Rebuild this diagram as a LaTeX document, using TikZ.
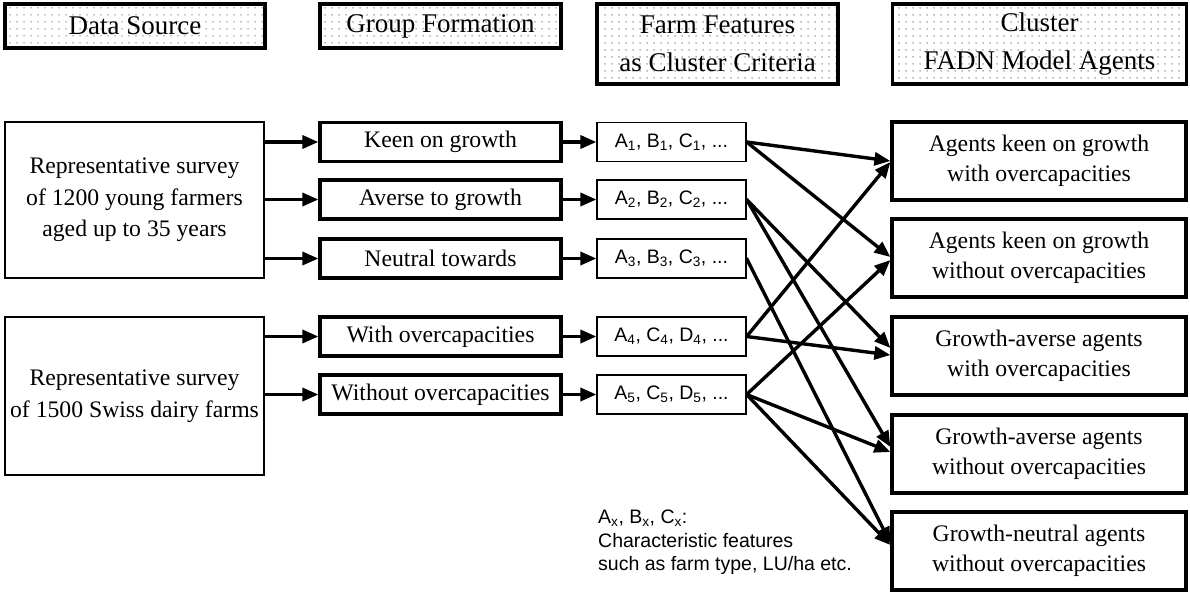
\documentclass[tikz,border=0pt]{standalone}
\usepackage{fontspec}
\setmainfont{Liberation Serif}
\newfontfamily\sansf{Liberation Sans}
\usetikzlibrary{arrows.meta,patterns.meta}
\tikzdeclarepattern{
  name=hdots,
  type=uncolored,
  bounding box={(0pt,0pt) and (7pt,7pt)},
  tile size={(7pt,7pt)},
  code={\fill (3.5pt,3.5pt) circle (0.9pt);}
}
\begin{document}
\begin{tikzpicture}[x=1pt,y=-1pt,
  hdr/.style={draw, line width=3.2pt, pattern=hdots, pattern color=black!50,
    font=\fontsize{27}{38}\selectfont, align=center, inner sep=0pt},
  grp/.style={draw, line width=3.2pt, fill=white, inner sep=0pt,
    font=\fontsize{23.7}{30}\selectfont, minimum width=241pt, minimum height=39pt},
  feat/.style={draw, line width=1.2pt, fill=white, inner sep=0pt,
    font=\sansf\fontsize{19.5}{23}\selectfont, minimum width=149pt, minimum height=39pt},
  src/.style={draw, line width=1.2pt, fill=white, inner sep=0pt, align=center,
    font=\fontsize{23.7}{31.5}\selectfont, minimum width=259pt},
  agt/.style={draw, line width=3.2pt, fill=white, inner sep=0pt, align=center,
    font=\fontsize{23.7}{30.5}\selectfont, minimum width=294pt, minimum height=78pt},
  arr/.style={line width=3.4pt, line cap=round, -{Triangle[length=16pt,width=13pt]}}
]
\useasboundingbox (0,0) rectangle (1190,592);

% headers
\node[hdr, minimum width=260pt, minimum height=44pt] (H1) at (135,26) {Data Source};
\node[hdr, minimum width=241pt, minimum height=44pt] (H2) at (440.5,26) {Group Formation};
\node[hdr, minimum width=241pt, minimum height=80pt] (H3) at (717.5,44) {Farm Features\\as Cluster Criteria};
\node[hdr, minimum width=294pt, minimum height=80pt] (H4) at (1039.5,44) {Cluster\\FADN Model Agents};

% data sources
\node[src, minimum height=156pt] (S1) at (134.5,200) {Representative survey\\of 1200 young farmers\\aged up to 35 years};
\node[src, minimum height=158pt] (S2) at (134.5,396) {Representative survey\\of 1500 Swiss dairy farms};

% groups
\node[grp] (G1) at (440.5,142) {Keen on growth};
\node[grp] (G2) at (440.5,199.5) {Averse to growth};
\node[grp] (G3) at (440.5,258.5) {Neutral towards};
\node[grp] (G4) at (440.5,336.5) {With overcapacities};
\node[grp] (G5) at (440.5,394.5) {Without overcapacities};

% features
\node[feat] (F1) at (671.5,142) {A\textsubscript{1}, B\textsubscript{1}, C\textsubscript{1}, ...};
\node[feat] (F2) at (671.5,199.5) {A\textsubscript{2}, B\textsubscript{2}, C\textsubscript{2}, ...};
\node[feat] (F3) at (671.5,258.5) {A\textsubscript{3}, B\textsubscript{3}, C\textsubscript{3}, ...};
\node[feat] (F4) at (671.5,336.5) {A\textsubscript{4}, C\textsubscript{4}, D\textsubscript{4}, ...};
\node[feat] (F5) at (671.5,394.5) {A\textsubscript{5}, C\textsubscript{5}, D\textsubscript{5}, ...};

% agents
\node[agt] (R1) at (1039,161) {Agents keen on growth\\with overcapacities};
\node[agt] (R2) at (1039,258) {Agents keen on growth\\without overcapacities};
\node[agt] (R3) at (1039,356) {Growth-averse agents\\with overcapacities};
\node[agt] (R4) at (1039,454) {Growth-averse agents\\without overcapacities};
\node[agt] (R5) at (1039,551) {Growth-neutral agents\\without overcapacities};

% note
\node[anchor=north west, align=left, inner sep=0pt, font=\sansf\fontsize{19.5}{23.5}\selectfont] (N) at (598,510)
  {A\textsubscript{x}, B\textsubscript{x}, C\textsubscript{x}:\\Characteristic features\\such as farm type, LU/ha etc.};

% source -> group
\draw[arr] (S1.east |- G1.west) -- (G1.west);
\draw[arr] (S1.east |- G2.west) -- (G2.west);
\draw[arr] (S1.east |- G3.west) -- (G3.west);
\draw[arr] (S2.east |- G4.west) -- (G4.west);
\draw[arr] (S2.east |- G5.west) -- (G5.west);

% group -> feature
\foreach \i in {1,...,5} {\draw[arr] (G\i.east) -- (F\i.west);}

% feature -> agents
\draw[arr] (F1.east) -- (R1.west);
\draw[arr] (F1.east) -- ([yshift=1pt]R2.west);
\draw[arr] (F2.east) -- ([yshift=8pt]R3.west);
\draw[arr] (F2.east) -- ([yshift=7pt]R4.west);
\draw[arr] (F3.east) -- ([yshift=8pt]R5.west);
\draw[arr] (F4.east) -- ([yshift=-1pt]R1.west);
\draw[arr] (F4.east) -- ([yshift=1pt]R3.west);
\draw[arr] (F5.east) -- ([yshift=-2pt]R2.west);
\draw[arr] (F5.east) -- ([yshift=2pt]R4.west);
\draw[arr] (F5.east) -- ([yshift=6pt]R5.west);
\end{tikzpicture}
\end{document}
